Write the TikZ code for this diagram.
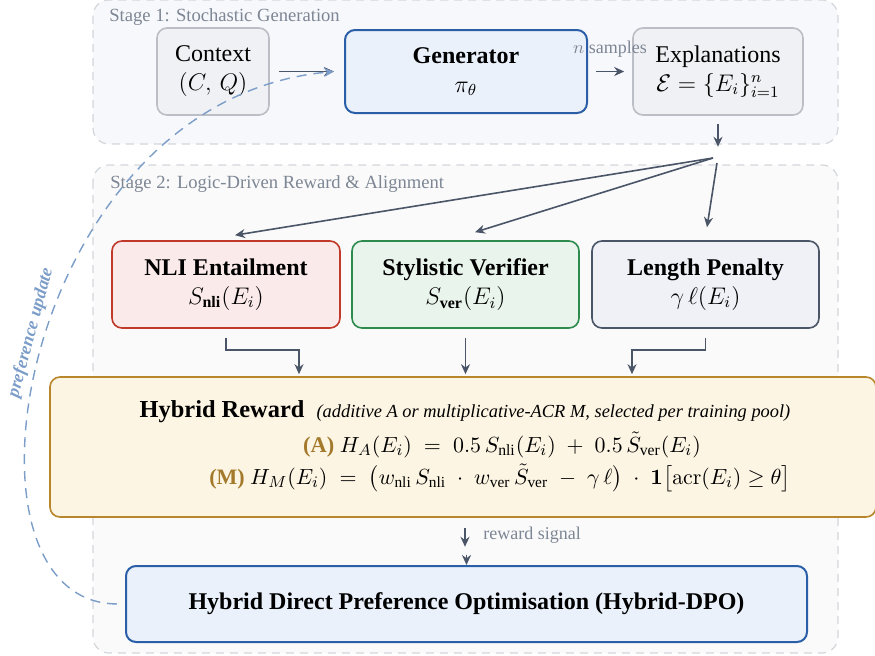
\documentclass[tikz,border=0pt]{standalone}
\usepackage{amsmath}
\usepackage[no-math]{fontspec}
\setmainfont{Liberation Serif}
\usetikzlibrary{arrows.meta}
\definecolor{stageonefill}{HTML}{F7F8FB}
\definecolor{stagetwofill}{HTML}{FAFAFA}
\definecolor{stageborder}{HTML}{D3D6DB}
\definecolor{stagetext}{HTML}{7D8694}
\definecolor{ctxfill}{HTML}{F0F1F4}
\definecolor{ctxborder}{HTML}{BBBEC4}
\definecolor{genfill}{HTML}{EAF1FB}
\definecolor{genborder}{HTML}{2A5FA8}
\definecolor{nlifill}{HTML}{FBEAEA}
\definecolor{nliborder}{HTML}{C0392B}
\definecolor{verfill}{HTML}{E9F4EC}
\definecolor{verborder}{HTML}{2E8B4E}
\definecolor{lenfill}{HTML}{EFF1F6}
\definecolor{lenborder}{HTML}{4A5568}
\definecolor{hybfill}{HTML}{FDF5E3}
\definecolor{hybborder}{HTML}{B8862B}
\definecolor{acol}{HTML}{A37A2C}
\definecolor{arrowc}{HTML}{4A5568}
\definecolor{prefblue}{HTML}{7B9DC8}
\begin{document}
\begin{tikzpicture}[x=0.5pt,y=-0.5pt,
  stagebox/.style={draw=stageborder, dash pattern=on 4pt off 3pt, line width=0.6pt, rounded corners=8pt},
  stagelabel/.style={anchor=west, inner sep=0pt, text=stagetext, font=\fontsize{9.3}{10}\selectfont},
  box/.style={draw, rounded corners=5pt, line width=0.8pt, align=center, inner sep=0pt,
    font=\fontsize{12}{14.5}\selectfont},
  conn/.style={draw=arrowc, line width=0.8pt, -{Stealth[length=5pt,width=4.5pt]}},
  pref/.style={draw=prefblue, line width=0.7pt, dash pattern=on 5pt off 3.5pt,
    -{Stealth[length=5pt,width=4.5pt]}},
  smalltext/.style={inner sep=0pt, text=stagetext, font=\fontsize{9}{10}\selectfont},
  formula/.style={inner sep=0pt, font=\fontsize{11.2}{14}\selectfont}
]
\useasboundingbox (0,0) rectangle (875,655);
% stage containers
\path[stagebox, fill=stageonefill] (93,0) rectangle (838,144);
\path[stagebox, fill=stagetwofill] (93,165) rectangle (838,653);
\node[stagelabel] (s1) at (109,17) {Stage 1: Stochastic Generation};
\node[stagelabel] (s2) at (110,184) {Stage 2: Logic-Driven Reward \& Alignment};

% stage 1 nodes
\node[box, fill=ctxfill, draw=ctxborder, minimum width=56pt, minimum height=43.5pt] (ctx) at (213,71.5)
  {Context\\$(C,\,Q)$};
\node[box, fill=genfill, draw=genborder, line width=1pt, minimum width=121pt, minimum height=41.5pt] (gen) at (466,71.5)
  {\textbf{Generator}\\$\pi_\theta$};
\node[box, fill=ctxfill, draw=ctxborder, minimum width=85pt, minimum height=43.5pt] (expl) at (718,71.5)
  {Explanations\\$\mathcal{E}=\{E_i\}_{i=1}^{n}$};

% stage 2 nodes
\node[box, fill=nlifill, draw=nliborder, minimum width=114pt, minimum height=43.5pt] (nli) at (226,284.5)
  {\textbf{NLI Entailment}\\$S_{\textbf{nli}}(E_i)$};
\node[box, fill=verfill, draw=verborder, minimum width=113.5pt, minimum height=43.5pt] (ver) at (465.5,284.5)
  {\textbf{Stylistic Verifier}\\$S_{\textbf{ver}}(E_i)$};
\node[box, fill=lenfill, draw=lenborder, minimum width=113.5pt, minimum height=43.5pt] (len) at (705.5,284.5)
  {\textbf{Length Penalty}\\$\gamma\,\ell(E_i)$};

\node[box, fill=hybfill, draw=hybborder, minimum width=413pt, minimum height=70pt] (hyb) at (463,447) {};
\node[inner sep=0pt, font=\fontsize{12.2}{14}\selectfont] (hybtitle) at (465,412)
  {\textbf{Hybrid Reward}\ \ {\fontsize{9.2}{10}\selectfont\itshape (additive A or multiplicative-ACR M, selected per training pool)}};
\node[formula] (forma) at (502,445)
  {{\color{acol}\textbf{(A)}} $H_A(E_i)\;=\;0.5\,S_{\text{nli}}(E_i)\;+\;0.5\,\tilde{S}_{\text{ver}}(E_i)$};
\node[formula, font=\fontsize{11}{14}\selectfont] (formm) at (500,478)
  {{\color{acol}\textbf{(M)}} $H_M(E_i)\;=\;\bigl(w_{\text{nli}}\,S_{\text{nli}}\;\cdot\;w_{\text{ver}}\,\tilde{S}_{\text{ver}}\;-\;\gamma\,\ell\bigr)\;\cdot\;\mathbf{1}\bigl[\mathrm{acr}(E_i)\geq\theta\bigr]$};

\node[box, fill=genfill, draw=genborder, line width=1pt, minimum width=340.5pt, minimum height=38pt] (dpo) at (466.5,604)
  {\textbf{Hybrid Direct Preference Optimisation (Hybrid-DPO)}};

% connectors stage 1
\draw[conn, shorten <=4.5pt, shorten >=5pt] (ctx.east) -- (gen.west);
\draw[conn, shorten <=4pt, shorten >=4pt] (gen.east) -- (expl.west);
\node[smalltext] (nsamp) at (610,49) {$n$ samples};
\draw[conn, shorten <=4pt] (expl.south) -- ++(0,31);

% fan
\coordinate (fan) at (713,158);
\draw[conn] (fan) -- ([shift={(9,-5)}]nli.north);
\draw[conn] (fan) -- ([shift={(9.5,-8)}]ver.north);
\draw[conn] ([shift={(4,5)}]fan) -- ([shift={(1.5,-13)}]len.north);

% elbows to hybrid
\draw[conn] ([yshift=-4.5pt]nli.south) -- ++(0,12) -| ([shift={(-164,-2)}]hyb.north);
\draw[conn] ([yshift=-4.5pt]ver.south) -- ([yshift=1pt]ver.south |- hyb.north);
\draw[conn] ([yshift=-4.5pt]len.south) -- ++(0,12) -| ([shift={(169,-2)}]hyb.north);

% reward signal
\draw[conn] ([shift={(2,10)}]hyb.south) -- ++(0,19);
\draw[conn] ([yshift=5pt]dpo.north) -- (dpo.north);
\node[smalltext, anchor=west] (rs) at (483,535) {reward signal};

% preference update loop
\draw[pref, shorten <=4pt] (dpo.west) .. controls (-60,603) and (20,100) .. ([xshift=-5pt]gen.west);
\node[rotate=75, inner sep=0pt, text=prefblue, font=\bfseries\itshape\fontsize{9}{10}\selectfont] (pu) at (31,333) {preference update};
\end{tikzpicture}
\end{document}
